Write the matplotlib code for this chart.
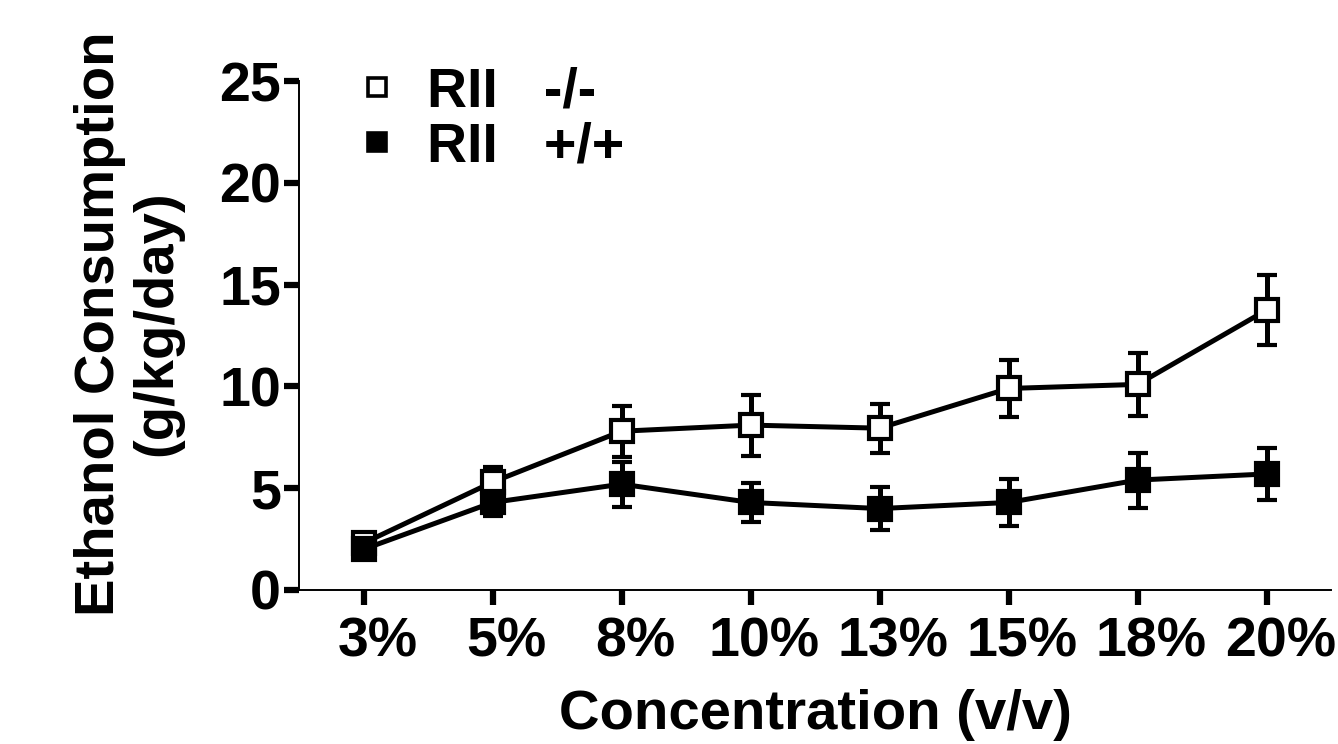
import numpy as np
import matplotlib
matplotlib.use("Agg")
import matplotlib.pyplot as plt
import matplotlib.transforms as mtransforms
from matplotlib.lines import Line2D

plt.rcParams["font.family"] = ["Liberation Sans", "DejaVu Sans"]
plt.rcParams["font.weight"] = "bold"

concentrations = ["3%", "5%", "8%", "10%", "13%", "15%", "18%", "20%"]
ko_mean = [2.3, 5.3, 7.8, 8.1, 7.95, 9.9, 10.1, 13.75]
ko_sem = [0.3, 0.75, 1.25, 1.5, 1.2, 1.4, 1.55, 1.7]
wt_mean = [2.0, 4.3, 5.2, 4.3, 4.0, 4.3, 5.4, 5.7]
wt_sem = [0.3, 0.65, 1.1, 0.95, 1.05, 1.15, 1.35, 1.3]
labels = ["RII   -/-", "RII   +/+"]

fig = plt.figure(figsize=(13.38, 7.44), dpi=100)
ax = fig.add_axes([0.2235, 0.207, 0.7713, 0.684])
x = np.arange(len(concentrations))

ax.errorbar(x, ko_mean, yerr=ko_sem, color="black", lw=3.6, elinewidth=3.6,
            capsize=7.5, capthick=3.2, marker="s", markersize=16,
            markerfacecolor="white", markeredgecolor="black", markeredgewidth=3.0)
ax.errorbar(x, wt_mean, yerr=wt_sem, color="black", lw=3.6, elinewidth=3.6,
            capsize=7.5, capthick=3.2, marker="s", markersize=16,
            markerfacecolor="black", markeredgecolor="black", markeredgewidth=3.0)

ax.set_xlim(-0.5, 7.5)
ax.set_ylim(0, 25)
ax.set_yticks([0, 5, 10, 15, 20, 25])
ax.set_xticks(x)
ax.set_xticklabels(concentrations)

for side in ["top", "right"]:
    ax.spines[side].set_visible(False)
for side in ["left", "bottom"]:
    ax.spines[side].set_linewidth(1.4)
ax.tick_params(axis="both", labelsize=40, width=4.5, length=11, pad=2)
ax.tick_params(axis="x", pad=8)
# Prism-style labels sit slightly right of their ticks
shift = mtransforms.ScaledTranslation(10 / 72, 0, fig.dpi_scale_trans)
for lbl in ax.get_xticklabels():
    lbl.set_transform(lbl.get_transform() + shift)
for lbl in ax.get_xticklabels() + ax.get_yticklabels():
    lbl.set_fontweight("bold")

ax.set_xlabel("Concentration (v/v)", fontsize=40.5, fontweight="bold", labelpad=15)
ax.set_ylabel("Ethanol Consumption\n(g/kg/day)", fontsize=40.5, fontweight="bold",
              labelpad=26, linespacing=1.12)
ax.yaxis.label.set_y(0.524)

handles = [
    Line2D([], [], ls="none", marker="s", markersize=13.5, markerfacecolor="white",
           markeredgecolor="black", markeredgewidth=2.6),
    Line2D([], [], ls="none", marker="s", markersize=13.5, markerfacecolor="black",
           markeredgecolor="black", markeredgewidth=2.6),
]
fig.legend(handles, labels, loc="upper left", bbox_to_anchor=(0.236, 0.963),
           frameon=False, prop={"size": 40, "weight": "bold"},
           handlelength=0.8, handletextpad=0.5, labelspacing=0.06, borderpad=0.2)

fig.savefig("out.png", dpi=100)
